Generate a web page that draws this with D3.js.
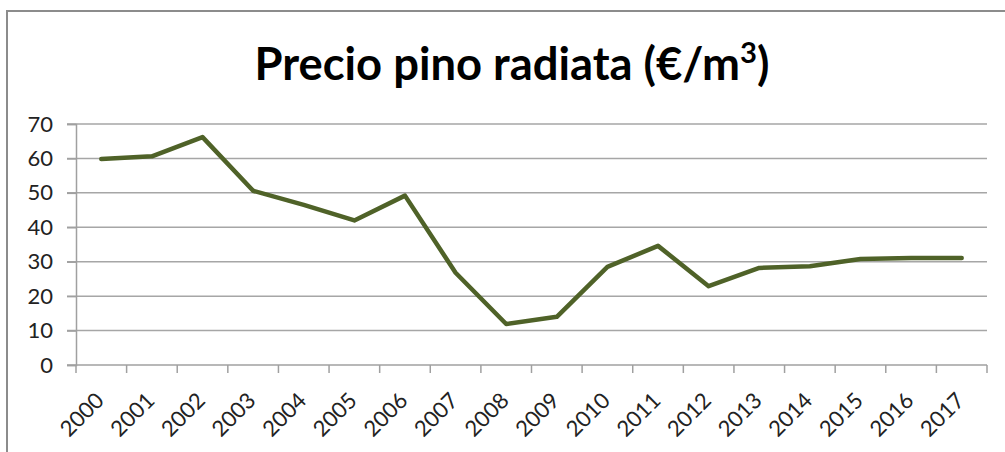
<!DOCTYPE html>
<html>
<head>
<meta charset="utf-8">
<script src="https://cdn.jsdelivr.net/npm/d3@7"></script>
<style>
  body { margin: 0; background: #fff; }
  .canvas { width: 1005px; height: 452px; position: relative; }
</style>
</head>
<body>
<div class="canvas"></div>
<script>
const years = ["2000", "2001", "2002", "2003", "2004", "2005", "2006", "2007", "2008",
               "2009", "2010", "2011", "2012", "2013", "2014", "2015", "2016", "2017"]
const prices = [59.8, 60.6, 66.2, 50.6, 46.5, 42.0, 49.2, 26.8, 11.9,
                14.0, 28.5, 34.6, 22.9, 28.2, 28.7, 30.8, 31.1, 31.1]
const yTicks = [0, 10, 20, 30, 40, 50, 60, 70]
const title = "Precio pino radiata (€/m"

const width = 1005
const height = 452
const margin = {top: 124, right: 18, bottom: 87, left: 76}
const graphWidth = width - margin.left - margin.right
const graphHeight = height - margin.top - margin.bottom
const labelFont = "Lato, 'Open Sans', sans-serif"

const svg = d3.select(".canvas").append("svg")
    .attr("width", width)
    .attr("height", height)

// chart frame (only top and left edges visible in the crop)
svg.append("path")
    .attr("d", `M7,${height} V11 H${width}`)
    .attr("fill", "none")
    .attr("stroke", "#8c8c8c")
    .attr("stroke-width", 2)

const titleText = svg.append("text")
    .attr("x", 512)
    .attr("y", 80)
    .attr("text-anchor", "middle")
    .attr("font-family", labelFont)
    .attr("font-weight", 700)
    .attr("font-size", 45)
    .attr("fill", "#000")
    .attr("textLength", 515)
    .attr("lengthAdjust", "spacingAndGlyphs")
titleText.append("tspan").text(title)
titleText.append("tspan").attr("font-size", 29).attr("dy", -17).text("3")
titleText.append("tspan").attr("dy", 17).text(")")

const graph = svg.append("g")
    .attr("transform", `translate(${margin.left}, ${margin.top})`)

const x = d3.scaleBand().domain(years).range([0, graphWidth])
const y = d3.scaleLinear().domain([0, 70]).range([graphHeight, 0])

// gridlines
graph.append("g")
    .selectAll("line")
    .data(yTicks.filter(d => d > 0))
    .enter().append("line")
    .attr("x1", -9)
    .attr("x2", graphWidth)
    .attr("y1", d => y(d))
    .attr("y2", d => y(d))
    .attr("stroke", "#a6a6a6")
    .attr("stroke-width", 1.5)

const yAxis = d3.axisLeft(y).tickValues(yTicks).tickSize(9).tickPadding(14)
const yAxisGroup = graph.append("g").call(yAxis)
yAxisGroup.select(".domain").attr("stroke", "#a0a0a0").attr("stroke-width", 1.5)
yAxisGroup.selectAll(".tick line").attr("stroke", "#a0a0a0").attr("stroke-width", 1.5)
yAxisGroup.selectAll(".tick text")
    .attr("font-family", labelFont)
    .attr("font-size", 22)
    .attr("fill", "#222")

// x axis: ticks on band boundaries
const xAxisGroup = graph.append("g").attr("transform", `translate(0, ${graphHeight})`)
xAxisGroup.append("line")
    .attr("x1", -9).attr("x2", graphWidth)
    .attr("stroke", "#a0a0a0").attr("stroke-width", 1.5)
xAxisGroup.selectAll(".xtick")
    .data(years.concat(["end"]))
    .enter().append("line")
    .attr("class", "xtick")
    .attr("x1", (d, i) => i * x.step())
    .attr("x2", (d, i) => i * x.step())
    .attr("y1", 0).attr("y2", 8)
    .attr("stroke", "#a0a0a0").attr("stroke-width", 1.5)

xAxisGroup.selectAll(".xlabel")
    .data(years)
    .enter().append("text")
    .attr("class", "xlabel")
    .attr("text-anchor", "end")
    .attr("font-family", labelFont)
    .attr("font-size", 22)
    .attr("fill", "#222")
    .attr("transform", d => `translate(${x(d) + x.bandwidth() / 2 + 4}, 37) rotate(-45)`)
    .text(d => d)

const line = d3.line()
    .x((d, i) => x(years[i]) + x.bandwidth() / 2)
    .y(d => y(d))

graph.append("path")
    .datum(prices)
    .attr("d", line)
    .attr("fill", "none")
    .attr("stroke", "#4f6228")
    .attr("stroke-width", 4.5)
    .attr("stroke-linejoin", "round")
    .attr("stroke-linecap", "round")
</script>
</body>
</html>
